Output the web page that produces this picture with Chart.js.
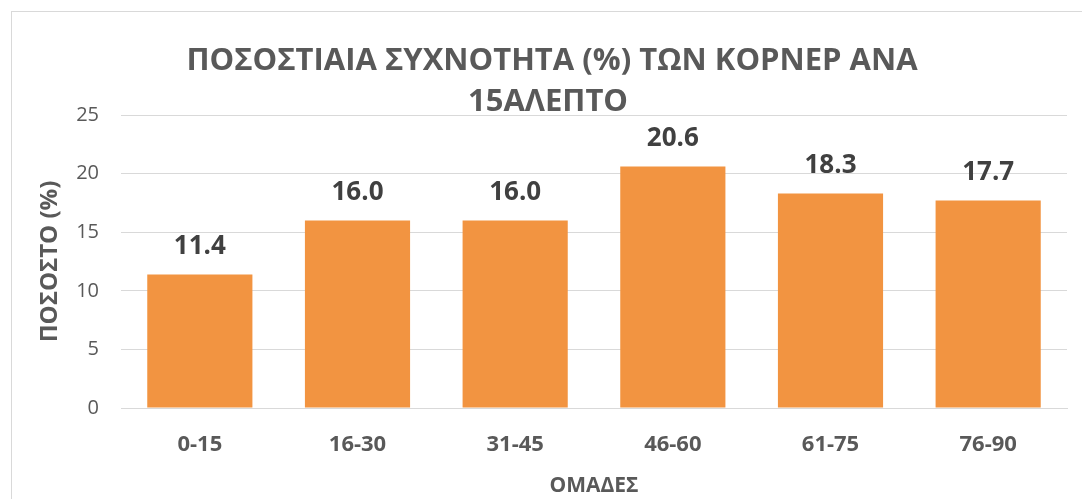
<!DOCTYPE html>
<html>
<head>
<meta charset="utf-8">
<script src="https://cdn.jsdelivr.net/npm/chart.js@4"></script>
<style>
  html, body { margin: 0; padding: 0; background: #fff; }
  #wrap { width: 1082px; height: 499px; }
</style>
</head>
<body>
<div id="wrap"><canvas id="grafico" width="1082" height="499"></canvas></div>
<script>
// dados do gráfico
const categorias = ['0-15', '16-30', '31-45', '46-60', '61-75', '76-90'];
const valores = [11.4, 16.0, 16.0, 20.6, 18.3, 17.7];
const tituloLinhas = ['ΠΟΣΟΣΤΙΑΙΑ ΣΥΧΝΟΤΗΤΑ (%) ΤΩΝ ΚΟΡΝΕΡ ΑΝΑ', '15ΑΛΕΠΤΟ'];
const tituloY = 'ΠΟΣΟΣΤΟ (%)';
const tituloX = 'ΟΜΑΔΕΣ';

const FONTE = "'Open Sans', 'Noto Sans', sans-serif";
const CINZA = '#595959';

// moldura + título (o título invade a área do gráfico, como no original)
const molduraTitulo = {
    id: 'molduraTitulo',
    beforeDraw(chart) {
        const ctx = chart.ctx;
        ctx.save();
        ctx.fillStyle = '#fff';
        ctx.fillRect(0, 0, chart.width, chart.height);
        ctx.strokeStyle = '#D9D9D9';
        ctx.lineWidth = 1;
        ctx.strokeRect(11.5, 11.5, chart.width + 20, chart.height + 20);
        ctx.restore();
    },
    afterDraw(chart) {
        const ctx = chart.ctx;
        const cx = (chart.chartArea.left + chart.chartArea.right) / 2 - 42;
        ctx.save();
        ctx.fillStyle = CINZA;
        ctx.font = `bold 31px ${FONTE}`;
        ctx.textAlign = 'center';
        ctx.textBaseline = 'middle';
        tituloLinhas.forEach((linha, i) => ctx.fillText(linha, cx + (i === 1 ? -4 : 0), 61 + i * 41));
        ctx.restore();
    }
};

// rótulos de valor acima das barras
const rotulosValores = {
    id: 'rotulosValores',
    afterDatasetsDraw(chart) {
        const ctx = chart.ctx;
        const meta = chart.getDatasetMeta(0);
        ctx.save();
        ctx.fillStyle = '#404040';
        ctx.font = `bold 26px ${FONTE}`;
        ctx.textAlign = 'center';
        ctx.textBaseline = 'middle';
        meta.data.forEach((barra, i) => {
            ctx.fillText(valores[i].toFixed(1), barra.x, barra.y - 28);
        });
        ctx.restore();
    }
};

new Chart(document.getElementById('grafico').getContext('2d'), {
    type: 'bar',
    data: {
        labels: categorias,
        datasets: [{
            data: valores,
            backgroundColor: '#F29441',
            borderWidth: 0,
            categoryPercentage: 1,
            barPercentage: 0.667
        }]
    },
    options: {
        responsive: false,
        animation: false,
        layout: { padding: { top: 115, right: 15, left: 0, bottom: 0 } },
        plugins: { legend: { display: false }, tooltip: { enabled: false } },
        scales: {
            y: {
                min: 0, max: 25,
                ticks: { stepSize: 5, padding: 22, color: CINZA, font: { family: FONTE, size: 20 } },
                grid: { color: '#D9D9D9', lineWidth: 1, drawTicks: false },
                border: { display: false },
                title: {
                    display: true, text: tituloY, color: CINZA,
                    font: { family: FONTE, size: 24, weight: 'bold' },
                    padding: { top: 36, bottom: 0 }
                },
                afterFit(s) { s.width = 121; }
            },
            x: {
                ticks: { padding: 24, color: CINZA, font: { family: FONTE, size: 22, weight: 'bold' } },
                grid: { display: false, drawTicks: false },
                border: { display: true, color: '#D9D9D9', width: 1 },
                title: {
                    display: true, text: tituloX, color: CINZA,
                    font: { family: FONTE, size: 21, weight: 'bold' },
                    padding: { top: 0, bottom: 0 }
                },
                afterFit(s) { s.height = 91; }
            }
        }
    },
    plugins: [molduraTitulo, rotulosValores]
});
</script>
</body>
</html>
